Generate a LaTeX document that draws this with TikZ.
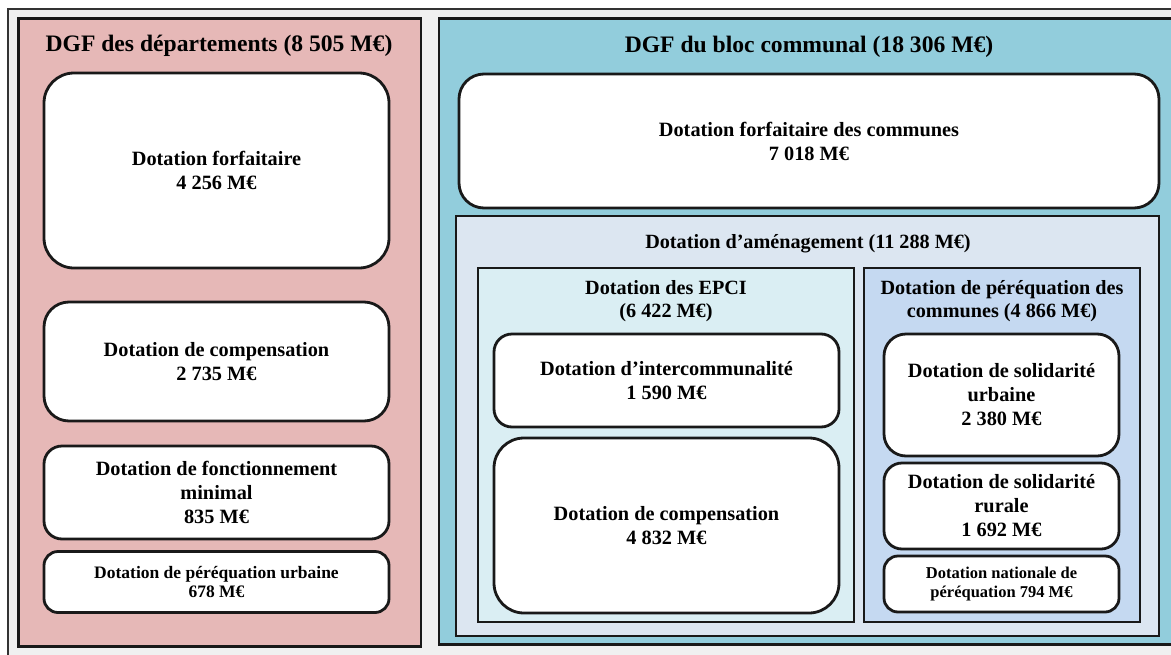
\documentclass[tikz,border=0pt]{standalone}
\usepackage{fontspec}
\setmainfont{Liberation Serif}
\usepackage{tikz}
\usetikzlibrary{positioning}
\definecolor{fondgris}{HTML}{F0F0F0}
\definecolor{rosedep}{HTML}{E6B8B7}
\definecolor{bleubloc}{HTML}{92CDDC}
\definecolor{bleuamen}{HTML}{DCE6F1}
\definecolor{bleuepci}{HTML}{DAEEF3}
\definecolor{bleupereq}{HTML}{C5D9F1}
\tikzstyle{cadre} = [draw=black!90, line width=2.8pt, rectangle, inner sep=0pt]
\tikzstyle{dotation} = [draw=black!90, fill=white, line width=2.8pt, rectangle, align=center, font=\fontsize{20.3}{24}\selectfont\bfseries]
\tikzstyle{petit} = [font=\fontsize{17.5}{19}\selectfont\bfseries]
\tikzstyle{titre} = [align=center, font=\fontsize{23.6}{28}\selectfont\bfseries]
\tikzstyle{soustitre} = [align=center, font=\fontsize{20.2}{23}\selectfont\bfseries]

\begin{document}
\begin{tikzpicture}[x=1pt,y=-1pt]
            \useasboundingbox (0,0) rectangle (1171,654);
            \clip (0,0) rectangle (1171,654);
            \fill[white] (0,0) rectangle (1171,654);
            \draw[fill=fondgris, draw=black!80, line width=2pt] (8,9) rectangle (1190,670);
            % DGF des departements
            \node[cadre, fill=rosedep, minimum width=402.5pt, minimum height=628pt] (dep) at (219.75,332.5) {};
            \node[titre] (deptitre) at (219,46) {DGF des départements (8 505 M€)};
            \node[dotation, rounded corners=30pt, minimum width=345pt, minimum height=195pt] (dforf) at (216.5,170.5) {Dotation forfaitaire\\4 256 M€};
            \node[dotation, rounded corners=25pt, minimum width=345pt, minimum height=119pt] (dcomp) at (216.5,361.5) {Dotation de compensation\\2 735 M€};
            \node[dotation, rounded corners=18pt, minimum width=345pt, minimum height=93pt] (dfonc) at (216.5,492.5) {Dotation de fonctionnement\\minimal\\835 M€};
            \node[dotation, petit, rounded corners=14pt, minimum width=345pt, minimum height=61pt] (dperu) at (216.5,582) {Dotation de péréquation urbaine\\678 M€};
            % DGF du bloc communal
            \node[cadre, fill=bleubloc, minimum width=760pt, minimum height=626pt] (bloc) at (819,331.5) {};
            \node[titre] (bloctitre) at (809,47) {DGF du bloc communal (18 306 M€)};
            \node[dotation, rounded corners=25pt, minimum width=700pt, minimum height=134pt] (cforf) at (809,141) {Dotation forfaitaire des communes\\7 018 M€};
            \node[cadre, fill=bleuamen, minimum width=703pt, minimum height=420pt] (amen) at (807.5,426) {};
            \node[soustitre] (amentitre) at (808,243.5) {Dotation d’aménagement (11 288 M€)};
            \node[cadre, fill=bleuepci, minimum width=376pt, minimum height=354pt] (epci) at (666,445) {};
            \node[soustitre] (epcititre) at (666,301) {Dotation des EPCI\\(6 422 M€)};
            \node[cadre, fill=bleupereq, minimum width=276pt, minimum height=354pt] (pereq) at (1002,445) {};
            \node[soustitre] (pereqtitre) at (1002,301) {Dotation de péréquation des\\communes (4 866 M€)};
            \node[dotation, rounded corners=18pt, minimum width=345pt, minimum height=93pt] (inter) at (666.5,380.5) {Dotation d’intercommunalité\\1 590 M€};
            \node[dotation, rounded corners=30pt, minimum width=345pt, minimum height=175pt] (ecomp) at (666.5,525.5) {Dotation de compensation\\4 832 M€};
            \node[dotation, rounded corners=22pt, minimum width=235pt, minimum height=122pt] (dsu) at (1001.5,395) {Dotation de solidarité\\urbaine\\2 380 M€};
            \node[dotation, rounded corners=18pt, minimum width=235pt, minimum height=86pt] (dsr) at (1001.5,506) {Dotation de solidarité\\rurale\\1 692 M€};
            \node[dotation, font=\fontsize{16.5}{19}\selectfont\bfseries, rounded corners=14pt, minimum width=235pt, minimum height=56pt] (dnp) at (1001.5,584) {Dotation nationale de\\péréquation 794 M€};
        \end{tikzpicture}
\end{document}
